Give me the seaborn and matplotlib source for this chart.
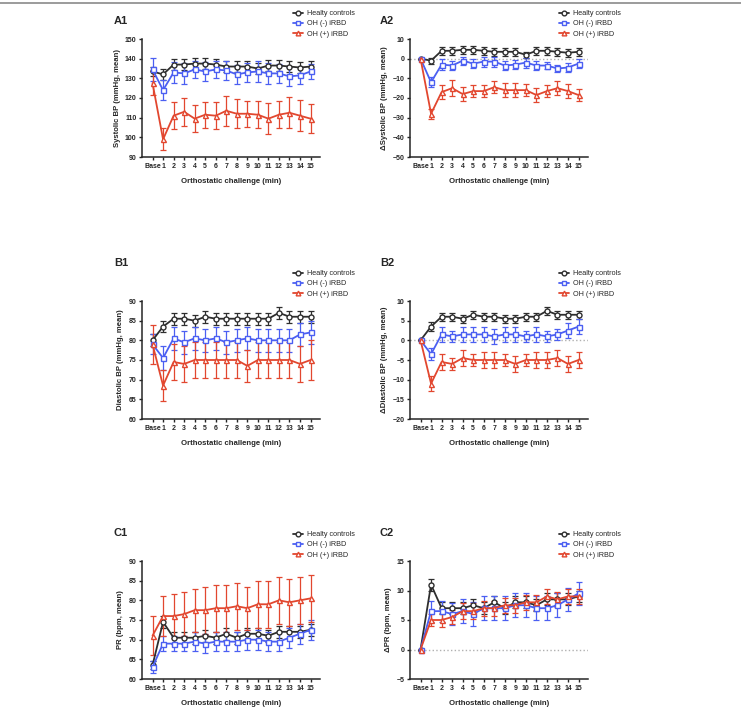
import numpy as np
import pandas as pd
import matplotlib
matplotlib.use('Agg')
import matplotlib.pyplot as plt
from matplotlib.lines import Line2D
import seaborn as sns

sns.set_style('ticks')
plt.rcParams['font.family'] = ['Liberation Sans', 'DejaVu Sans']

minutes = ['Base'] + [str(i) for i in range(1, 16)]
groups = ['Healty controls', 'OH (-) iRBD', 'OH (+) iRBD']
colors = ['#2e2e2e', '#4b5ff2', '#e2472f']
markers = ['o', 's', '^']

# A1 systolic BP
a1_hc = [133.5, 132, 137, 137, 137.5, 137.5, 137, 136, 136, 136, 135, 136.5, 136.5, 136, 135.5, 136]
a1_hc_err = [2.5, 3, 3, 3, 3, 3, 3, 3, 3, 3, 3, 3, 3, 3, 3, 3]
a1_neg = [134.5, 124, 133, 132.5, 134.5, 133.5, 134.5, 134, 132, 133, 133.5, 132.5, 132.5, 131, 131.5, 133.5]
a1_neg_err = [6, 5, 5.5, 5.5, 4.5, 5, 4.5, 5, 5, 5, 5.5, 5.5, 5, 5, 4.5, 4]
a1_pos = [127.5, 99, 111, 113, 109.5, 111.5, 111, 113.5, 112, 112, 111.5, 109.5, 111.5, 112.5, 111, 109.5]
a1_pos_err = [6, 5.5, 7, 7, 7, 6.5, 7, 7.5, 7.5, 6.5, 7, 8, 7, 8, 8, 7.5]

# A2 delta systolic BP
a2_hc = [0, -1, 4, 4, 4.5, 4.5, 4, 3.5, 3.5, 3.5, 2, 4, 4, 3.5, 3, 3.5]
a2_hc_err = [0, 1.5, 2, 2, 2, 2, 2, 2, 2, 2, 1.5, 2, 2, 2, 2, 2]
a2_neg = [0, -12, -3, -3.5, -1, -2.5, -1.5, -1.5, -3.5, -3, -2, -3.5, -3.5, -5, -4.5, -2.5]
a2_neg_err = [0, 2.5, 3, 2.5, 2, 2.5, 2.5, 2.5, 2.5, 2.5, 2.5, 2.5, 2, 2, 2.5, 2.5]
a2_pos = [0, -28, -17, -15, -18, -16.5, -16.5, -14.5, -16, -16, -16, -18.5, -16.5, -15, -16.5, -18.5]
a2_pos_err = [0, 2.5, 3.5, 4, 3.5, 3, 3, 3, 3.5, 3.5, 3, 3.5, 3, 3.5, 3.5, 3]

# B1 diastolic BP
b1_hc = [80, 83.5, 85.5, 85.5, 85, 86, 85.5, 85.5, 85.5, 85.5, 85.5, 85.5, 87, 86, 86, 86]
b1_hc_err = [1.5, 1.5, 1.5, 1.5, 1.5, 1.5, 1.5, 1.5, 1.5, 1.5, 1.5, 1.5, 1.5, 1.5, 1.5, 1.5]
b1_neg = [79, 75.5, 80.5, 79.5, 80.5, 80, 80.5, 79.5, 80, 80.5, 80, 80, 80, 80, 81.5, 82]
b1_neg_err = [2.5, 3, 3, 3, 3, 3, 3, 3, 3, 3, 3, 3, 3, 3, 3, 3]
b1_pos = [79, 68.5, 74.5, 74, 75, 75, 75, 75, 75, 73.5, 75, 75, 75, 75, 74, 75]
b1_pos_err = [5, 4, 4.5, 4.5, 4.5, 4.5, 4.5, 4.5, 4.5, 4, 4.5, 4.5, 4.5, 4.5, 4.5, 5]

# B2 delta diastolic BP
b2_hc = [0, 3.5, 6, 6, 5.5, 6.5, 6, 6, 5.5, 5.5, 6, 6, 7.5, 6.5, 6.5, 6.5]
b2_hc_err = [0, 1.2, 1, 1, 1, 1, 1, 1, 1, 1, 1, 1, 1, 1, 1, 1]
b2_neg = [0, -3.5, 1.5, 1, 1.5, 1.5, 1.5, 1, 1.5, 1.5, 1, 1.5, 1, 1.5, 2.5, 3.5]
b2_neg_err = [0, 1.5, 2, 1.5, 1.8, 1.8, 1.8, 2, 1.8, 2, 1.5, 1.8, 1.5, 1.5, 2, 1.8]
b2_pos = [0, -11, -5.5, -6, -4.5, -5, -5, -5, -5, -6, -5, -5, -5, -4.5, -6, -5]
b2_pos_err = [0, 2, 2, 1.5, 2, 1.5, 2, 2, 1.5, 2, 1.5, 2, 2, 2, 2, 2]

# C1 pulse rate
c1_hc = [63.5, 74.5, 70.5, 70.5, 70.5, 71, 70.5, 71.5, 70.5, 71.5, 71.5, 71, 72, 72, 72, 72.5]
c1_hc_err = [1, 1.5, 1.5, 1.5, 1.5, 1.5, 1.5, 1.5, 1.5, 1.5, 1.5, 1.5, 1.5, 1.5, 1.5, 1.5]
c1_neg = [63, 69, 69, 69, 69.5, 69, 69.5, 69.5, 69.5, 70, 70, 69.5, 69.5, 70.5, 71.5, 72.5]
c1_neg_err = [1.5, 2, 2, 2, 2.5, 2.5, 2.5, 2.5, 2.5, 2.5, 2.5, 2.5, 2.5, 2.5, 2.5, 2.5]
c1_pos = [71, 76, 76, 76.5, 77.5, 77.5, 78, 78, 78.5, 78, 79, 79, 80, 79.5, 80, 80.5]
c1_pos_err = [5, 5, 5.5, 5.5, 5.5, 6, 6, 6, 6, 5.5, 6, 6, 6, 6, 6, 6]

# C2 delta pulse rate
c2_hc = [0, 11, 7, 7, 7, 7.5, 7, 8, 7, 8, 8, 7.5, 8.5, 8.5, 8.5, 9]
c2_hc_err = [0, 1, 1, 1, 1, 1, 1, 1, 1, 1, 1, 1, 1, 1, 1, 1]
c2_neg = [0, 6.5, 6.5, 6, 6.5, 6, 7, 7, 7, 7.5, 7.5, 7, 7, 7.5, 8.5, 9.5]
c2_neg_err = [0, 1.8, 1.8, 1.8, 2, 2, 2, 2, 2, 2, 2, 2, 2, 2, 2, 2]
c2_pos = [0, 5, 5, 5.5, 6.5, 6.5, 7, 7, 7.5, 7.5, 8, 8, 9, 8.5, 9, 9]
c2_pos_err = [0, 1, 1.2, 1.2, 1.3, 1.3, 1.3, 1.3, 1.3, 1.3, 1.3, 1.3, 1.3, 1.3, 1.3, 1.3]

fig = plt.figure(figsize=(7.41, 7.09), dpi=100)
fig.add_artist(Line2D([0, 1], [0.996, 0.996], color='#8a8a8a', lw=1.2))

W, H = 178 / 741, 118 / 709
lefts = [142 / 741, 410 / 741]
bottoms = [(709 - 157) / 709, (709 - 419) / 709, (709 - 679) / 709]


def draw_panel(ax, means, errs, ylim, yticks, ylabel, tag, tag_xy, leg_xy, zero=False):
    pos = np.arange(len(minutes))
    if zero:
        ax.axhline(0, color='#b0b0b0', ls=':', lw=1, zorder=0)
    for i, g in enumerate(groups):
        df = pd.DataFrame({'pos': pos, 'value': means[i]})
        ax.errorbar(pos, means[i], yerr=errs[i], fmt='none', ecolor=colors[i],
                    elinewidth=0.9, capsize=2, capthick=0.9, zorder=2 + i * 0.1)
        sns.lineplot(data=df, x='pos', y='value', ax=ax, color=colors[i], marker=markers[i],
                     markersize=3.6, mfc='white', mec=colors[i], mew=1.0, lw=1.3,
                     errorbar=None, zorder=3 + i * 0.1)
    ax.set_xlim(-1, 15.9)
    ax.set_ylim(*ylim)
    ax.set_yticks(yticks)
    ax.set_xticks(pos)
    ax.set_xticklabels(minutes)
    ax.tick_params(labelsize=5.0, length=2.5, width=1.0, pad=1.5)
    for t in ax.get_xticklabels() + ax.get_yticklabels():
        t.set_fontweight('bold')
    for s in ['left', 'bottom']:
        ax.spines[s].set_linewidth(1.1)
    sns.despine(ax=ax)
    ax.set_xlabel('Orthostatic challenge (min)', fontsize=5.6, fontweight='bold', labelpad=6)
    ax.set_ylabel(ylabel, fontsize=5.6, fontweight='bold', labelpad=3)
    fig.text(tag_xy[0] / 741, 1 - tag_xy[1] / 709, tag, fontsize=8, fontweight='bold',
             va='center', ha='left')
    handles = [Line2D([], [], color=colors[i], marker=markers[i], markersize=3.4, mfc='white',
                      mec=colors[i], mew=1.0, lw=1.3) for i in range(3)]
    fig.legend(handles, groups, loc='upper left', bbox_to_anchor=(leg_xy[0] / 741, 1 - leg_xy[1] / 709),
               frameon=False, fontsize=5.2, handlelength=1.4, handletextpad=0.5,
               labelspacing=0.45, borderaxespad=0, borderpad=0)


ax = fig.add_axes([lefts[0], bottoms[0], W, H])
draw_panel(ax, [a1_hc, a1_neg, a1_pos], [a1_hc_err, a1_neg_err, a1_pos_err], (90, 150),
           range(90, 151, 10), 'Systolic BP (mmHg, mean)', 'A1', (114, 21), (293, 10))
ax = fig.add_axes([lefts[1], bottoms[0], W, H])
draw_panel(ax, [a2_hc, a2_neg, a2_pos], [a2_hc_err, a2_neg_err, a2_pos_err], (-50, 10),
           range(-50, 11, 10), '\u0394Systolic BP (mmHg, mean)', 'A2', (380, 21), (559, 10), zero=True)
ax = fig.add_axes([lefts[0], bottoms[1], W, H])
draw_panel(ax, [b1_hc, b1_neg, b1_pos], [b1_hc_err, b1_neg_err, b1_pos_err], (60, 90),
           range(60, 91, 5), 'Diastolic BP (mmHg, mean)', 'B1', (114, 263), (293, 270))
ax = fig.add_axes([lefts[1], bottoms[1], W, H])
draw_panel(ax, [b2_hc, b2_neg, b2_pos], [b2_hc_err, b2_neg_err, b2_pos_err], (-20, 10),
           range(-20, 11, 5), '\u0394Diastolic BP (mmHg, mean)', 'B2', (380, 263), (559, 270), zero=True)
ax = fig.add_axes([lefts[0], bottoms[2], W, H])
draw_panel(ax, [c1_hc, c1_neg, c1_pos], [c1_hc_err, c1_neg_err, c1_pos_err], (60, 90),
           range(60, 91, 5), 'PR (bpm, mean)', 'C1', (114, 533), (293, 531))
ax = fig.add_axes([lefts[1], bottoms[2], W, H])
draw_panel(ax, [c2_hc, c2_neg, c2_pos], [c2_hc_err, c2_neg_err, c2_pos_err], (-5, 15),
           range(-5, 16, 5), '\u0394PR (bpm, mean)', 'C2', (380, 533), (559, 531), zero=True)

fig.savefig('out.png', dpi=100)
